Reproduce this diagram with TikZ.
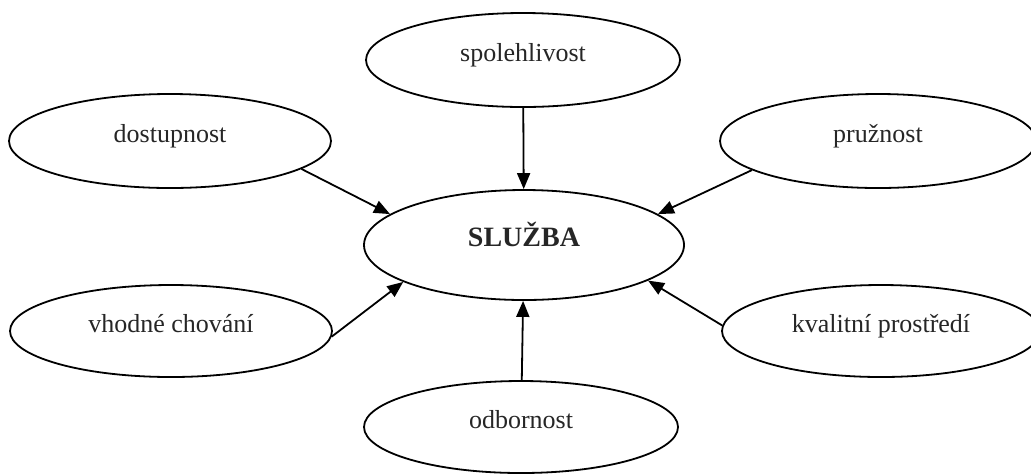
\documentclass[tikz,border=0pt]{standalone}
\usepackage{fontspec}
\setmainfont{Liberation Serif}
\usetikzlibrary{shapes.geometric,arrows.meta}

\begin{document}
\begin{tikzpicture}[x=0.5pt, y=-0.5pt, line width=0.9pt,
  bub/.style={draw, ellipse, inner sep=0pt, text=black!85, font=\fontsize{13}{15}\selectfont, text height=9pt, text depth=8pt},
  arr/.style={-{Triangle[length=8pt,width=6.5pt]}}]
\useasboundingbox (0,0) rectangle (1031,473);
\node[bub, minimum width=157pt, minimum height=47pt] (spol) at (523,60) {spolehlivost};
\node[bub, minimum width=161pt, minimum height=47pt] (dost) at (170,141) {dostupnost};
\node[bub, minimum width=158pt, minimum height=47pt] (pruz) at (878,141) {pružnost};
\node[bub, minimum width=160pt, minimum height=55pt, font=\fontsize{14}{16}\selectfont\bfseries] (sluz) at (524,245) {SLUŽBA};
\node[bub, minimum width=161pt, minimum height=46pt] (vhod) at (171,331) {vhodné chování};
\node[bub, minimum width=159pt, minimum height=46pt] (kval) at (881,331) {kvalitní prostředí};
\node[bub, minimum width=157pt, minimum height=46pt] (odb) at (521,427) {odbornost};

% arrows into the centre
\draw[arr] (spol) -- (sluz);
\draw[arr] (odb) -- (sluz);
\draw[arr] (dost.-12) -- (sluz.167);
\draw[arr] (pruz.-167) -- (sluz.13);
\draw[arr] (vhod.-2) -- (sluz.-163);
\draw[arr] (kval.178) -- (sluz.-16);
\end{tikzpicture}
\end{document}
